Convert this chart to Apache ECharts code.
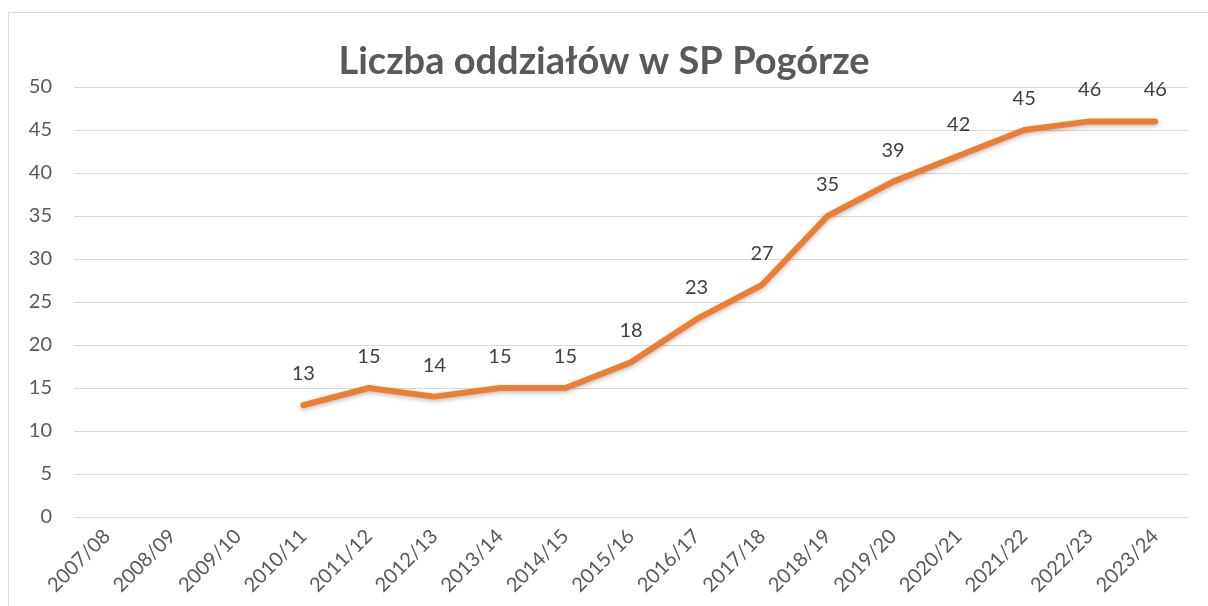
<!DOCTYPE html>
<html>
<head>
<meta charset="utf-8">
<script src="https://cdn.jsdelivr.net/npm/echarts@6/dist/echarts.min.js"></script>
<style>
  html, body { margin: 0; padding: 0; background: #fff; }
  #chart { width: 1208px; height: 606px; }
</style>
</head>
<body>
<div id="chart"></div>
<script>
// lata szkolne
const years = ["2007/08", "2008/09", "2009/10", "2010/11", "2011/12", "2012/13", "2013/14", "2014/15",
  "2015/16", "2016/17", "2017/18", "2018/19", "2019/20", "2020/21", "2021/22", "2022/23", "2023/24"];
// liczba oddziałów (brak danych dla pierwszych lat)
const classes = [null, null, null, 13, 15, 14, 15, 15, 18, 23, 27, 35, 39, 42, 45, 46, 46];
const yTicks = { min: 0, max: 50, step: 5 };

const font = "Lato, 'Open Sans', 'Liberation Sans', sans-serif";
const chart = echarts.init(document.getElementById("chart"));

chart.setOption({
  animation: false,
  textStyle: { fontFamily: font },
  title: {
    text: "Liczba oddziałów w SP Pogórze",
    left: "center",
    top: 38,
    textStyle: { fontSize: 38, fontWeight: "bold", color: "#595959", fontFamily: font },
  },
  graphic: [{
    type: "rect",
    shape: { x: 8.5, y: 12.5, width: 1300, height: 700 },
    style: { fill: "none", stroke: "#d9d9d9", lineWidth: 1 },
    silent: true,
  }],
  grid: { left: 74, right: 20, top: 87, bottom: 89, containLabel: false },
  xAxis: {
    type: "category",
    data: years,
    boundaryGap: true,
    axisLine: { show: false },
    axisTick: { show: false },
    axisLabel: { rotate: 45, fontSize: 20, color: "#595959", margin: 16, interval: 0 },
  },
  yAxis: {
    type: "value",
    min: yTicks.min,
    max: yTicks.max,
    interval: yTicks.step,
    axisLine: { show: false },
    axisTick: { show: false },
    axisLabel: { fontSize: 20, color: "#595959", margin: 22 },
    splitLine: { lineStyle: { color: "#d9d9d9", width: 1 } },
  },
  series: [{
    type: "line",
    data: classes,
    showSymbol: true,
    symbol: "circle",
    symbolSize: 1,
    itemStyle: { color: "rgba(0,0,0,0)" },
    connectNulls: false,
    lineStyle: {
      color: "#ED7D31",
      width: 6,
      cap: "round",
      join: "round",
      shadowColor: "rgba(0,0,0,0.25)",
      shadowBlur: 4,
      shadowOffsetY: 2,
    },
    label: {
      show: true,
      position: "top",
      distance: 21,
      fontSize: 20,
      color: "#404040",
    },
  }],
});
</script>
</body>
</html>
